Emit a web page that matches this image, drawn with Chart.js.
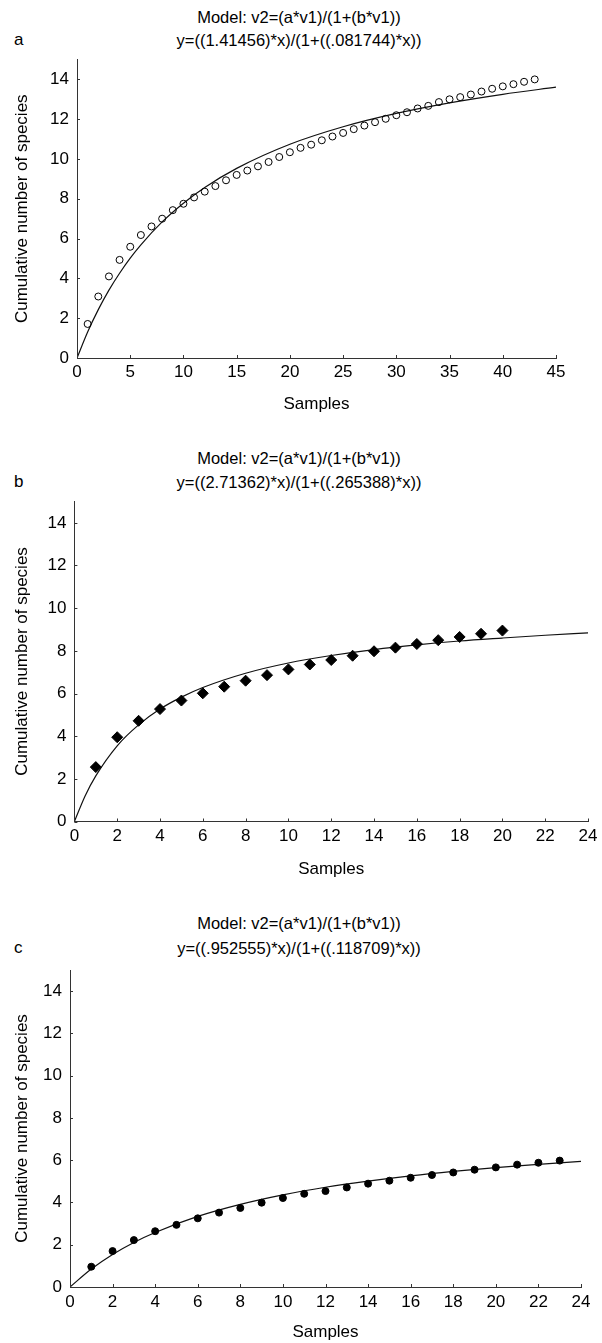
<!DOCTYPE html>
<html>
<head>
<meta charset="utf-8">
<script src="https://cdn.jsdelivr.net/npm/chart.js@4.4.1/dist/chart.umd.min.js"></script>
<style>
  body { margin: 0; background: #fff; width: 602px; height: 1343px; position: relative; overflow: hidden;
         font-family: "Liberation Sans", Arial, sans-serif; color: #000; }
  canvas { position: absolute; left: 0; }
  .t { position: absolute; left: 99px; width: 400px; text-align: center; font-size: 16.5px; line-height: 20px; white-space: nowrap; }
  .lt { position: absolute; left: 14px; font-size: 17px; line-height: 20px; }
</style>
</head>
<body>
<div class="t" style="top:7px">Model: v2=(a*v1)/(1+(b*v1))</div>
<div class="t" style="top:30px">y=((1.41456)*x)/(1+((.081744)*x))</div>
<div class="lt" style="top:30px">a</div>
<canvas id="chartA" width="602" height="430" style="top:0px"></canvas>

<div class="t" style="top:448px">Model: v2=(a*v1)/(1+(b*v1))</div>
<div class="t" style="top:472px">y=((2.71362)*x)/(1+((.265388)*x))</div>
<div class="lt" style="top:472px">b</div>
<canvas id="chartB" width="602" height="440" style="top:440px"></canvas>

<div class="t" style="top:913px">Model: v2=(a*v1)/(1+(b*v1))</div>
<div class="t" style="top:938px">y=((.952555)*x)/(1+((.118709)*x))</div>
<div class="lt" style="top:938px">c</div>
<canvas id="chartC" width="602" height="443" style="top:900px"></canvas>

<script>
// tick labels
const yTicks = [0, 2, 4, 6, 8, 10, 12, 14];
const aXTicks = [0, 5, 10, 15, 20, 25, 30, 35, 40, 45];
const bXTicks = [0, 2, 4, 6, 8, 10, 12, 14, 16, 18, 20, 22, 24];
const cXTicks = [0, 2, 4, 6, 8, 10, 12, 14, 16, 18, 20, 22, 24];

// panel a - observed points
const aSamples = [1, 2, 3, 4, 5, 6, 7, 8, 9, 10, 11, 12, 13, 14, 15, 16, 17, 18, 19, 20, 21, 22,
  23, 24, 25, 26, 27, 28, 29, 30, 31, 32, 33, 34, 35, 36, 37, 38, 39, 40, 41, 42, 43];
const aSpecies = [1.71, 3.09, 4.1, 4.93, 5.59, 6.18, 6.61, 7.0, 7.43, 7.75, 8.07, 8.36, 8.64, 8.93,
  9.2, 9.42, 9.63, 9.85, 10.1, 10.34, 10.56, 10.72, 10.94, 11.13, 11.31, 11.5, 11.68, 11.85, 12.02,
  12.2, 12.35, 12.54, 12.67, 12.86, 13.0, 13.11, 13.24, 13.39, 13.53, 13.65, 13.76, 13.88, 14.0];
// panel a - fitted curve
const aFitX = [0, 1, 2, 3, 4, 5, 6, 8, 10, 12, 15, 20, 25, 30, 35, 40, 45];
const aFitY = [0, 1.31, 2.43, 3.41, 4.26, 5.02, 5.69, 6.84, 7.78, 8.57, 9.53, 10.74, 11.62, 12.29, 12.82, 13.25, 13.61];

// panel b
const bSamples = [1, 2, 3, 4, 5, 6, 7, 8, 9, 10, 11, 12, 13, 14, 15, 16, 17, 18, 19, 20];
const bSpecies = [2.55, 3.95, 4.72, 5.27, 5.67, 6.01, 6.32, 6.6, 6.86, 7.13, 7.36, 7.57, 7.77,
  7.98, 8.15, 8.32, 8.5, 8.65, 8.8, 8.95];
const bFitX = [0, 0.5, 1, 2, 3, 4, 5, 6, 8, 10, 12, 14, 16, 18, 20, 22, 24];
const bFitY = [0, 1.2, 2.14, 3.55, 4.53, 5.27, 5.83, 6.28, 6.95, 7.43, 7.78, 8.06, 8.28, 8.46, 8.6, 8.73, 8.84];

// panel c
const cSamples = [1, 2, 3, 4, 5, 6, 7, 8, 9, 10, 11, 12, 13, 14, 15, 16, 17, 18, 19, 20, 21, 22, 23];
const cSpecies = [0.96, 1.7, 2.22, 2.64, 2.94, 3.25, 3.52, 3.74, 3.99, 4.21, 4.41, 4.54, 4.71,
  4.89, 5.03, 5.17, 5.3, 5.42, 5.55, 5.66, 5.79, 5.88, 5.98];
const cFitX = [0, 1, 2, 3, 4, 6, 8, 10, 12, 14, 16, 18, 20, 22, 24];
const cFitY = [0, 0.85, 1.54, 2.11, 2.58, 3.34, 3.91, 4.36, 4.72, 5.01, 5.26, 5.47, 5.65, 5.8, 5.94];

Chart.defaults.font.family = '"Liberation Sans", Arial, sans-serif';
Chart.defaults.font.size = 17;
Chart.defaults.color = '#000';

const AXIS = '#333';

// small tick marks pointing into the plot
const inwardTicks = {
  id: 'inwardTicks',
  afterDraw(chart) {
    const ctx = chart.ctx;
    const area = chart.chartArea;
    ctx.save();
    ctx.strokeStyle = AXIS;
    ctx.lineWidth = 1;
    ctx.beginPath();
    chart.scales.x.ticks.forEach(t => {
      const px = Math.round(chart.scales.x.getPixelForValue(t.value)) + 0.5;
      ctx.moveTo(px, area.bottom);
      ctx.lineTo(px, area.bottom - 3);
    });
    chart.scales.y.ticks.forEach(t => {
      const py = Math.round(chart.scales.y.getPixelForValue(t.value)) + 0.5;
      ctx.moveTo(area.left, py);
      ctx.lineTo(area.left + 3, py);
    });
    ctx.stroke();
    ctx.restore();
  }
};

function toXY(xs, ys) {
  return xs.map((x, i) => ({ x: x, y: ys[i] }));
}

function makePanel(id, p) {
  new Chart(document.getElementById(id), {
    type: 'scatter',
    data: {
      datasets: [
        {
          data: toXY(p.fitX, p.fitY),
          showLine: true,
          borderColor: '#111',
          borderWidth: 1.2,
          pointRadius: 0,
          cubicInterpolationMode: 'monotone',
          order: 2
        },
        {
          data: toXY(p.samples, p.species),
          showLine: false,
          pointStyle: p.pointStyle,
          pointRadius: p.pointRadius,
          pointBorderWidth: 1,
          pointBorderColor: '#000',
          pointBackgroundColor: p.fill,
          order: 1
        }
      ]
    },
    options: {
      responsive: false,
      animation: false,
      layout: { padding: { top: p.padTop, right: p.padRight, left: 0, bottom: 0 } },
      plugins: { legend: { display: false }, tooltip: { enabled: false } },
      scales: {
        x: {
          type: 'linear',
          min: 0,
          max: p.xMax,
          grid: { display: false, drawTicks: false },
          border: { display: true, color: AXIS, width: 1 },
          ticks: { padding: p.xTickPad, maxRotation: 0 },
          afterBuildTicks: s => { s.ticks = p.xTicks.map(v => ({ value: v })); },
          afterFit: s => { s.height = p.xHeight; },
          title: { display: true, text: 'Samples', padding: { top: 0, bottom: p.xTitlePad } }
        },
        y: {
          type: 'linear',
          min: 0,
          max: 15,
          grid: { display: false, drawTicks: false },
          border: { display: true, color: AXIS, width: 1 },
          ticks: { padding: 8 },
          afterBuildTicks: s => { s.ticks = yTicks.map(v => ({ value: v })); },
          afterFit: s => { s.width = p.yWidth; },
          title: { display: true, text: 'Cumulative number of species', padding: { top: 12.5, bottom: 0 } }
        }
      }
    },
    plugins: [inwardTicks]
  });
}

makePanel('chartA', {
  samples: aSamples, species: aSpecies, fitX: aFitX, fitY: aFitY, xTicks: aXTicks, xMax: 45,
  pointStyle: 'circle', pointRadius: 3.5, fill: 'rgba(0,0,0,0)',
  padTop: 59.5, padRight: 46, xHeight: 72, xTickPad: 4.5, xTitlePad: 15.8, yWidth: 77
});
makePanel('chartB', {
  samples: bSamples, species: bSpecies, fitX: bFitX, fitY: bFitY, xTicks: bXTicks, xMax: 24,
  pointStyle: 'rectRot', pointRadius: 5.5, fill: '#000',
  padTop: 61.5, padRight: 10, xHeight: 58.5, xTickPad: 4.5, xTitlePad: 0.8, yWidth: 74.4
});
makePanel('chartC', {
  samples: cSamples, species: cSpecies, fitX: cFitX, fitY: cFitY, xTicks: cXTicks, xMax: 24,
  pointStyle: 'circle', pointRadius: 3.5, fill: '#000',
  padTop: 70, padRight: 21, xHeight: 56, xTickPad: 5.5, xTitlePad: 0.8, yWidth: 70
});
</script>
</body>
</html>
